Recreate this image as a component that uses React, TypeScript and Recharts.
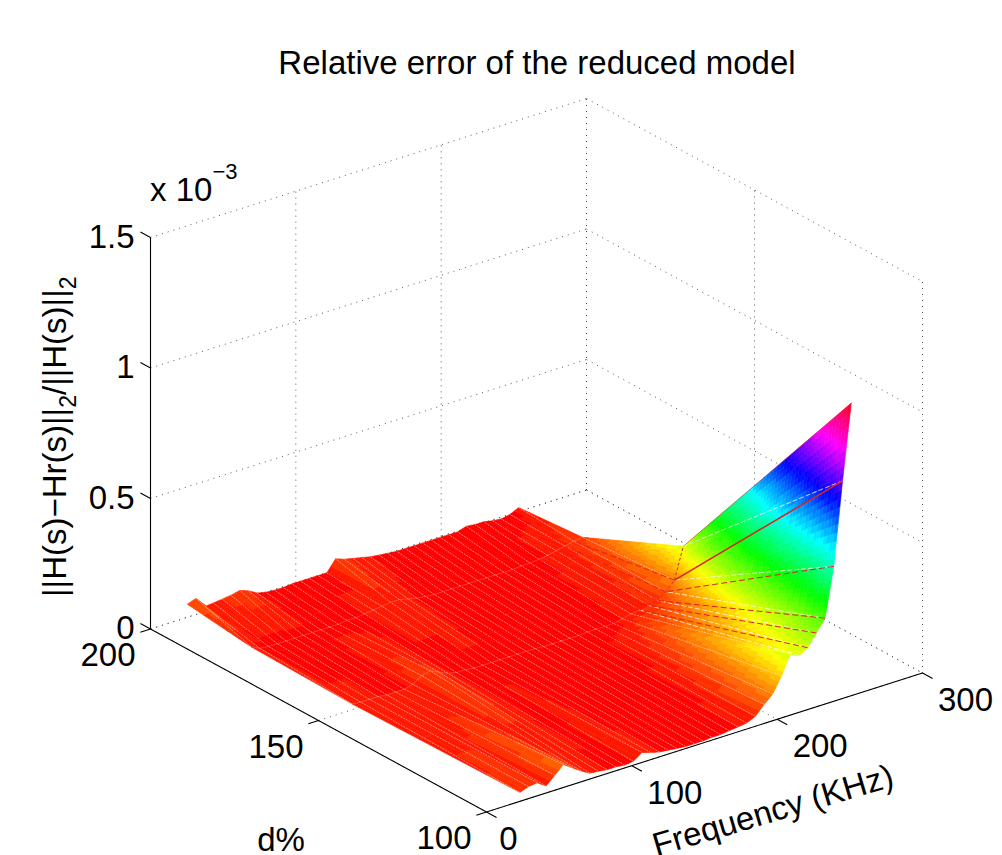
import React from 'react';
import { ScatterChart, Scatter, XAxis, YAxis } from 'recharts';

// sampled frequencies in KHz
const frequencies = [
  23, 29, 35, 41, 47, 53, 59, 65, 71, 77, 83, 89, 95, 101, 107, 113, 119, 125, 131, 137,
  143, 149, 155, 161, 167, 173, 179, 185, 191, 197, 203, 209, 215, 221, 227, 233, 239, 245, 251,
];

// d% levels, near edge first
const dLevels = [100, 150, 180, 199];

// relative error (x 10^-3) for each d level, one value per frequency
const errorAt100 = [
  0.034, 0.046, 0.05, 0.027, 0.057, 0.088, 0.065, 0.042, 0.023, 0.019, 0.015, 0.015, 0.011, 0.015, 0.038, 0.027, 0.019, 0.015, 0.011, 0.008,
  0.008, 0.008, 0.011, 0.011, 0.015, 0.019, 0.023, 0.038, 0.073, 0.103, 0.161, 0.233, 0.218, 0.237, 0.283, 0.329, 0.517, 0.834, 1.121,
];
const errorAt150 = [
  0.023, 0.019, 0.019, 0.019, 0.015, 0.015, 0.015, 0.023, 0.046, 0.054, 0.038, 0.023, 0.015, 0.015, 0.011, 0.011, 0.011, 0.011, 0.011, 0.011,
  0.011, 0.011, 0.008, 0.008, 0.008, 0.008, 0.008, 0.011, 0.011, 0.011, 0.011, 0.019, 0.027, 0.031, 0.038, 0.046, 0.069, 0.103, 0.222,
];
const errorAt180 = [
  0.031, 0.015, 0.011, 0.011, 0.011, 0.011, 0.011, 0.011, 0.011, 0.011, 0.011, 0.015, 0.015, 0.019, 0.023, 0.027, 0.031, 0.031, 0.023, 0.015,
  0.011, 0.008, 0.008, 0.008, 0.008, 0.008, 0.008, 0.008, 0.008, 0.008, 0.008, 0.011, 0.011, 0.015, 0.019, 0.027, 0.034, 0.042, 0.046,
];
const errorAt199 = [
  0.061, 0.073, 0.031, 0.034, 0.038, 0.042, 0.05, 0.038, 0.019, 0.011, 0.008, 0.008, 0.011, 0.011, 0.011, 0.011, 0.011, 0.054, 0.042, 0.034,
  0.027, 0.019, 0.015, 0.011, 0.008, 0.008, 0.008, 0.008, 0.008, 0.008, 0.008, 0.008, 0.019, 0.015, 0.015, 0.008, 0.004, 0.011, 0.027,
];
const errorRows = [errorAt100, errorAt150, errorAt180, errorAt199];

const freqTicks = [0, 100, 200, 300];
const dTicks = [100, 150, 200];
const errorTicks = [0, 0.5, 1, 1.5];
const errorTickLabels = ['0', '0.5', '1', '1.5'];

const WIDTH = 1002;
const HEIGHT = 855;
const FONT = '"Liberation Sans", Arial, sans-serif';
const TICK_SIZE = 33;
const MAX_ERROR = 1.121;

// fixed matlab-like view of the 3d box, gives the 2d values handed to the chart axes
function project(f: number, d: number, z: number) {
  return {
    x: 486.5 + (436 * f) / 300 - (336 * (d - 100)) / 100,
    y: 812 - (139 * f) / 300 - (183 * (d - 100)) / 100 - 261 * z,
  };
}

// hsv colormap with 64 steps, like the original figure
function hsvColor(z: number) {
  const level = Math.min(63, Math.floor((z / MAX_ERROR) * 64));
  return `hsl(${(level / 64) * 360}, 100%, 50%)`;
}

const surfacePoints = dLevels.flatMap((d, j) =>
  frequencies.map((f, i) => project(f, d, errorRows[j][i])),
);

type Pt = { x: number; y: number };

const vertexIndex = (i: number, j: number) => j * frequencies.length + i;

// the Scatter hands us the vertices after the chart scales, we shade the quads here
function renderSurface(props: any) {
  const pts: Pt[] = props.points;
  const at = (i: number, j: number) => pts[vertexIndex(i, j)];
  const polys: React.ReactNode[] = [];
  for (let i = frequencies.length - 2; i >= 0; i--) {
    for (let j = dLevels.length - 2; j >= 0; j--) {
      const a = at(i, j);
      const b = at(i + 1, j);
      const c = at(i + 1, j + 1);
      const e = at(i, j + 1);
      const za = errorRows[j][i];
      const zb = errorRows[j][i + 1];
      const zc = errorRows[j + 1][i + 1];
      const ze = errorRows[j + 1][i];
      const spread = Math.max(za, zb, zc, ze) - Math.min(za, zb, zc, ze);
      const steps = Math.min(48, 2 + Math.ceil(spread * 90));
      const across = spread > 0.08 ? 10 : 2;
      for (let u = 0; u < steps; u++) {
        for (let v = 0; v < across; v++) {
          const mix = (p: number, q: number) => {
            const s = p / steps;
            const t = q / across;
            return {
              x: (a.x * (1 - t) + b.x * t) * (1 - s) + (e.x * (1 - t) + c.x * t) * s,
              y: (a.y * (1 - t) + b.y * t) * (1 - s) + (e.y * (1 - t) + c.y * t) * s,
            };
          };
          const s = (u + 0.5) / steps;
          const t = (v + 0.5) / across;
          const z = (za * (1 - t) + zb * t) * (1 - s) + (ze * (1 - t) + zc * t) * s;
          const corners = [mix(u, v), mix(u, v + 1), mix(u + 1, v + 1), mix(u + 1, v)];
          const color = hsvColor(z);
          polys.push(
            <polygon
              key={`${i}-${j}-${u}-${v}`}
              points={corners.map((p) => `${p.x},${p.y}`).join(' ')}
              fill={color}
              stroke={color}
              strokeWidth={0.6}
            />,
          );
        }
      }
    }
  }

  // mesh seams: light diagonals over the whole sheet, red edges on the steep part
  const seams: React.ReactNode[] = [];
  for (let i = 0; i < frequencies.length - 1; i++) {
    for (let j = 0; j < dLevels.length - 1; j++) {
      const p = at(i, j);
      const q = at(i + 1, j + 1);
      const steep = j === 0 && i >= 32;
      seams.push(
        <line
          key={`w-${i}-${j}`}
          x1={p.x}
          y1={p.y}
          x2={q.x}
          y2={q.y}
          stroke="#fff"
          strokeOpacity={steep ? 0.95 : 0.62}
          strokeWidth={steep ? 0.8 : 0.75}
          strokeDasharray={steep ? '5 2' : '2 1'}
        />,
      );
      if (i >= 33 && j <= 1) {
        const r = at(i, j);
        const s = at(i, j + 1);
        seams.push(
          <line
            key={`r-${i}-${j}`}
            x1={r.x}
            y1={r.y}
            x2={s.x}
            y2={s.y}
            stroke="#e02020"
            strokeWidth={i === 37 && j === 0 ? 1.5 : 1}
            strokeDasharray={i === 37 && j === 0 ? undefined : '6 3'}
          />,
        );
      }
    }
  }
  for (let i = 0; i < frequencies.length - 1; i++) {
    for (const j of [1, 2]) {
      const p = at(i, j);
      const q = at(i + 1, j);
      const red = j === 1 && i >= 33;
      seams.push(
        <line
          key={`c-${i}-${j}`}
          x1={p.x}
          y1={p.y}
          x2={q.x}
          y2={q.y}
          stroke={red ? '#e02020' : '#fff'}
          strokeOpacity={red ? 1 : 0.3}
          strokeWidth={red ? 1 : 0.6}
          strokeDasharray={red ? '3 2' : undefined}
        />,
      );
    }
  }
  // thin red rim on the top boundary of the wedge
  const last = frequencies.length - 1;
  const rimA = at(last, 0);
  const rimB = at(last, 1);
  seams.push(
    <line key="rim" x1={rimA.x} y1={rimA.y} x2={rimB.x} y2={rimB.y} stroke="#f03030" strokeOpacity={0.7} strokeWidth={0.8} />,
  );
  return (
    <g key="surface">
      {polys}
      {seams}
    </g>
  );
}

// data given as endpoint pairs, each pair drawn as its own segment
const segmentLine = (stroke: string, dash?: string, width = 1) => (props: any) => {
  const pts: Pt[] = props.points;
  let d = '';
  for (let i = 0; i + 1 < pts.length; i += 2) {
    d += `M${pts[i].x},${pts[i].y}L${pts[i + 1].x},${pts[i + 1].y}`;
  }
  return <path key={stroke + dash} d={d} fill="none" stroke={stroke} strokeDasharray={dash} strokeWidth={width} />;
};

const noMark = () => <g />;

const gridSegments = [
  ...errorTicks.flatMap((z) => [
    project(0, 200, z),
    project(300, 200, z),
    project(300, 200, z),
    project(300, 100, z),
  ]),
  ...freqTicks.flatMap((f) => [project(f, 200, 0), project(f, 200, 1.5)]),
  ...dTicks.flatMap((d) => [project(300, d, 0), project(300, d, 1.5)]),
  ...freqTicks.flatMap((f) => [project(f, 200, 0), project(f, 100, 0)]),
  ...dTicks.flatMap((d) => [project(0, d, 0), project(300, d, 0)]),
];

const axisSegments = [
  project(0, 200, 0),
  project(0, 200, 1.5),
  project(0, 200, 0),
  project(0, 100, 0),
  project(0, 100, 0),
  project(300, 100, 0),
  ...errorTicks.flatMap((z) => [project(0, 200, z), project(0, 203, z)]),
  ...dTicks.flatMap((d) => [project(0, d, 0), project(-7, d, 0)]),
  ...freqTicks.flatMap((f) => [project(f, 100, 0), project(f, 97, 0)]),
];

type Caption = Pt & { text: string; anchor?: string; size?: number; rotate?: number; kind?: string };

const captions: Caption[] = [
  { x: 537, y: 74, text: 'Relative error of the reduced model' },
  ...errorTicks.map((z, k) => {
    const p = project(0, 200, z);
    return { x: p.x - 16, y: p.y + 10, text: errorTickLabels[k], anchor: 'end' };
  }),
  ...dTicks.map((d) => {
    const p = project(0, d, 0);
    return { x: p.x - 15, y: p.y + 37, text: String(d), anchor: 'end' };
  }),
  ...freqTicks.map((f) => {
    const p = project(f, 100, 0);
    return { x: p.x + (f === 0 ? 22 : 43), y: p.y + 38, text: String(f) };
  }),
  { x: 281, y: 851, text: 'd%' },
  { x: 776, y: 821, text: 'Frequency (KHz)', rotate: -16.5 },
  { x: 150, y: 201, text: 'x 10', anchor: 'start', kind: 'scale' },
  { x: 66, y: 597, text: '', anchor: 'start', rotate: -90, kind: 'errorLabel' },
];

function CaptionMark(props: any) {
  const { cx, cy, payload } = props;
  const c: Caption = payload;
  const common = {
    x: cx,
    y: cy,
    fontFamily: FONT,
    fontSize: c.size ?? TICK_SIZE,
    fill: '#000',
    textAnchor: c.anchor ?? 'middle',
    transform: c.rotate ? `rotate(${c.rotate} ${cx} ${cy})` : undefined,
  };
  if (c.kind === 'scale') {
    return (
      <text {...common}>
        {c.text}
        <tspan dy={-22} fontSize={22}>
          −3
        </tspan>
      </text>
    );
  }
  if (c.kind === 'errorLabel') {
    return (
      <text {...common}>
        ||H(s)−Hr(s)||
        <tspan dy={10} fontSize={23}>
          2
        </tspan>
        <tspan dy={-10}>/||H(s)||</tspan>
        <tspan dy={10} fontSize={23}>
          2
        </tspan>
      </text>
    );
  }
  return <text {...common}>{c.text}</text>;
}

export default function App() {
  return (
    <div style={{ position: 'absolute', left: 0, top: 0, width: WIDTH, height: HEIGHT, background: '#fff' }}>
      <ScatterChart width={WIDTH} height={HEIGHT} margin={{ top: 0, right: 0, bottom: 0, left: 0 }}>
        <XAxis type="number" dataKey="x" domain={[0, WIDTH]} hide />
        <YAxis type="number" dataKey="y" domain={[0, HEIGHT]} reversed hide />
        <Scatter
          data={gridSegments}
          shape={noMark}
          line={segmentLine('#444', '1 5', 0.9)}
          isAnimationActive={false}
        />
        <Scatter
          data={surfacePoints}
          shape={noMark}
          line={renderSurface}
          isAnimationActive={false}
        />
        <Scatter
          data={axisSegments}
          shape={noMark}
          line={segmentLine('#000', undefined, 1.1)}
          isAnimationActive={false}
        />
        <Scatter data={captions} shape={CaptionMark} isAnimationActive={false} />
      </ScatterChart>
    </div>
  );
}
